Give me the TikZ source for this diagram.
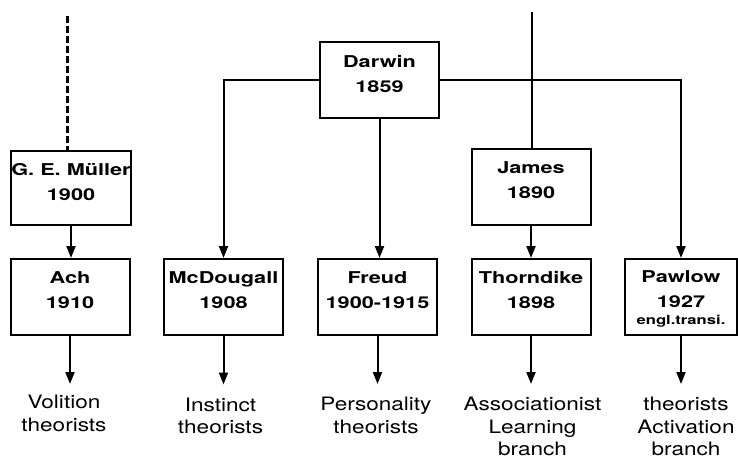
\documentclass[tikz,border=0pt]{standalone}
\usepackage{fontspec}
\usepackage{tikz}
\usetikzlibrary{arrows.meta,positioning}
\newfontfamily\boxfont{TeX Gyre Heros}[FakeStretch=1.33]
\newfontfamily\labfont{TeX Gyre Heros}[FakeStretch=1.22]
\tikzset{
	person/.style={draw, line width=2pt, inner sep=0pt, anchor=north, minimum width=119pt,
		text height=49pt, text depth=27pt, align=center,
		font=\boxfont\bfseries\fontsize{16.3}{25}\selectfont},
	branch/.style={inner sep=0pt, anchor=north, align=center,
		font=\labfont\fontsize{18.5}{22.5}\selectfont},
	link/.style={line width=2pt},
	arr/.style={link, -{Triangle[length=12pt,width=9pt]}}
}

\begin{document}
\begin{tikzpicture}[x=1pt,y=-1pt]
	\useasboundingbox (0,0) rectangle (738,459);
	\node[person, text height=50pt, text depth=26pt] (darwin) at (379.5,41){Darwin\\1859};
	\node[person, text depth=25pt] (muller) at (71,150){G. E. M\"uller\\1900};
	\node[person] (james) at (531,148){James\\1890};
	\node[person] (ach) at (70,258){Ach\\1910};
	\node[person] (mcdougall) at (223.5,258){McDougall\\1908};
	\node[person] (freud) at (377.5,258){Freud\\1900-1915};
	\node[person] (thorndike) at (531,258){Thorndike\\1898};
	\node[person, minimum width=112pt, text height=65pt, text depth=11pt] (pawlow) at (681,258){Pawlow\\1927\\[-8.5pt]{\fontsize{12.5}{15}\selectfont engl.transi.}};

	\node[branch] (volition) at (64,395){Volition\\theorists};
	\node[branch] (instinct) at (220.5,397.5){Instinct\\theorists};
	\node[branch] (personality) at (376,397){Personality\\theorists};
	\node[branch] (learning) at (532.5,397){Associationist\\Learning\\branch};
	\node[branch] (activation) at (686,397){theorists\\Activation\\branch};

	\coordinate (mtop) at (67,16);
	\coordinate (jtop) at (532,12);
	\draw[line width=3pt, dash pattern=on 7pt off 3pt] (mtop) -- (mtop |- muller.north);
	\draw[link] (jtop) -- (jtop |- james.north);

	\draw[arr] (darwin.west) -| (mcdougall.north);
	\draw[arr] (darwin.east) -| (pawlow.north);
	\draw[arr] (darwin.south) -- (darwin.south |- freud.north);
	\draw[arr] (muller.south) -- (muller.south |- ach.north);
	\draw[arr] (james.south) -- (james.south |- thorndike.north);

	\draw[arr, shorten >=11pt] (ach.south) -- (ach.south |- volition.north);
	\draw[arr, shorten >=13pt] (mcdougall.south) -- (mcdougall.south |- instinct.north);
	\draw[arr, shorten >=13pt] (freud.south) -- (freud.south |- personality.north);
	\draw[arr, shorten >=13pt] (thorndike.south) -- (thorndike.south |- learning.north);
	\draw[arr, shorten >=13pt] (pawlow.south) -- (pawlow.south |- activation.north);
\end{tikzpicture}
\end{document}
